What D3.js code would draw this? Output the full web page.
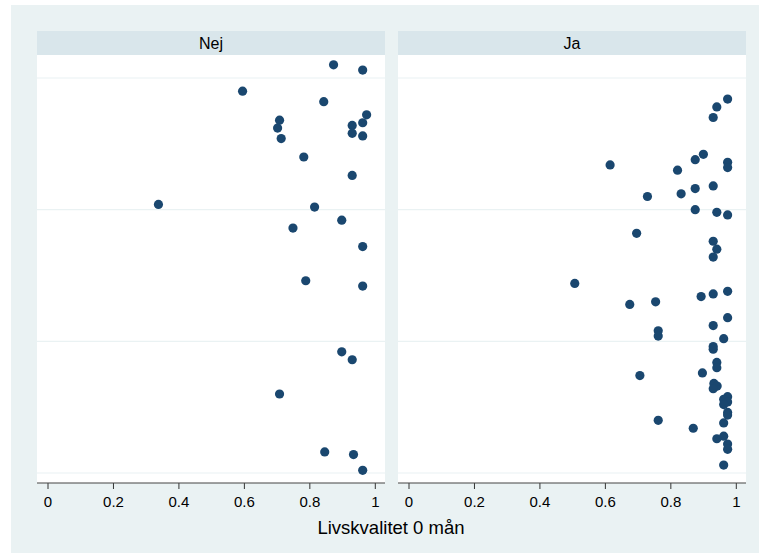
<!DOCTYPE html>
<html><head><meta charset="utf-8">
<script src="https://cdn.jsdelivr.net/npm/d3@7"></script>
<style>body{margin:0;background:#fff}svg{display:block}</style>
</head><body>
<script>
const panels = ["Nej", "Ja"];
const xTicks = [0, 0.2, 0.4, 0.6, 0.8, 1];
const yGrid = [0, 1, 2, 3];
const nejX = [0.874,0.963,0.596,0.844,0.975,0.709,0.963,0.931,0.703,0.931,0.963,0.714,0.783,0.931,0.339,0.816,0.899,0.750,0.963,0.789,0.963,0.899,0.931,0.709,0.847,0.935,0.963];
const nejY = [3.10,3.06,2.90,2.82,2.72,2.68,2.66,2.64,2.62,2.58,2.56,2.54,2.40,2.26,2.04,2.02,1.92,1.86,1.72,1.46,1.42,0.92,0.86,0.60,0.16,0.14,0.02];
const jaX = [0.975,0.942,0.931,0.901,0.876,0.975,0.616,0.975,0.822,0.931,0.876,0.833,0.730,0.876,0.942,0.975,0.697,0.931,0.942,0.931,0.508,0.975,0.931,0.894,0.676,0.755,0.975,0.931,0.763,0.763,0.963,0.931,0.931,0.942,0.942,0.707,0.898,0.933,0.943,0.931,0.975,0.963,0.975,0.963,0.975,0.975,0.963,0.763,0.870,0.963,0.942,0.975,0.975,0.963];
const jaY = [2.84,2.78,2.70,2.42,2.38,2.36,2.34,2.32,2.30,2.18,2.16,2.12,2.10,2.00,1.98,1.96,1.82,1.76,1.70,1.64,1.44,1.38,1.36,1.34,1.28,1.30,1.18,1.12,1.08,1.04,1.02,0.96,0.94,0.84,0.80,0.74,0.76,0.68,0.66,0.64,0.58,0.56,0.54,0.52,0.46,0.44,0.38,0.40,0.34,0.28,0.26,0.22,0.18,0.06];
const panelData = [d3.zip(nejX, nejY), d3.zip(jaX, jaY)];

const W = 759, H = 553;
const svg = d3.select("body").append("svg").attr("width", W).attr("height", H);
svg.append("rect").attr("x", 11).attr("y", 5).attr("width", W - 11).attr("height", H - 5).attr("fill", "#eaf2f3");

const font = "'Liberation Sans', Arial, Helvetica, sans-serif";
const panelBoxes = [{x0: 37, x1: 385}, {x0: 398, x1: 746}];
const stripTop = 31, plotTop = 55, plotBottom = 483;
const y = d3.scaleLinear().domain([0, 3]).range([473, 78]);

panels.forEach((name, i) => {
  const b = panelBoxes[i];
  const g = svg.append("g");
  // strip
  g.append("rect").attr("x", b.x0).attr("y", stripTop).attr("width", b.x1 - b.x0).attr("height", plotTop - stripTop).attr("fill", "#d9e6eb");
  g.append("text").attr("x", (b.x0 + b.x1) / 2).attr("y", 49).attr("text-anchor", "middle")
    .attr("font-family", font).attr("font-size", 16).attr("fill", "#000").text(name);
  // plot area
  g.append("rect").attr("x", b.x0).attr("y", plotTop).attr("width", b.x1 - b.x0).attr("height", plotBottom - plotTop).attr("fill", "#fff");
  const x = d3.scaleLinear().domain([0, 1]).range([b.x0 + 10.5, b.x0 + 337.8]);
  g.selectAll(".grid").data(yGrid).join("line")
    .attr("x1", b.x0).attr("x2", b.x1).attr("y1", d => y(d)).attr("y2", d => y(d))
    .attr("stroke", "#eaf2f3").attr("stroke-width", 1.2);
  g.selectAll("circle").data(panelData[i]).join("circle")
    .attr("cx", d => x(d[0])).attr("cy", d => y(d[1])).attr("r", 4.6).attr("fill", "#1a476f");
  const ax = g.append("g").attr("transform", `translate(0,${plotBottom})`)
    .call(d3.axisBottom(x).tickValues(xTicks).tickFormat(d3.format("")).tickSize(6).tickPadding(7));
  ax.select(".domain").remove();
  ax.selectAll(".tick line").attr("stroke", "#333");
  ax.selectAll(".tick text").attr("font-family", font).attr("font-size", 15).attr("fill", "#000");
  g.append("line").attr("x1", b.x0).attr("x2", b.x1).attr("y1", plotBottom).attr("y2", plotBottom).attr("stroke", "#444").attr("stroke-width", 1.2);
});

svg.append("text").attr("x", 391).attr("y", 534).attr("text-anchor", "middle")
  .attr("font-family", font).attr("font-size", 18.5).attr("fill", "#000").text("Livskvalitet 0 mån");
</script>
</body></html>
